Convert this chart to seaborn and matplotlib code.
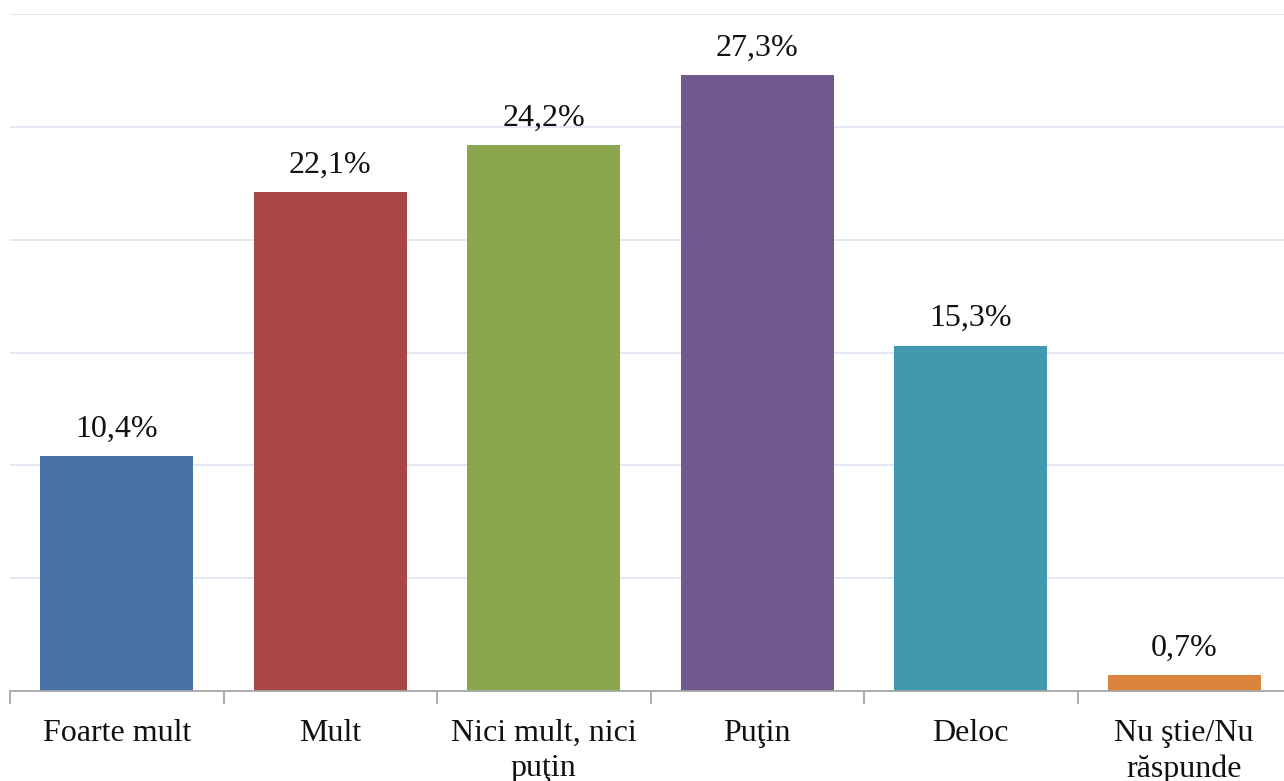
import matplotlib
matplotlib.use("Agg")
import matplotlib.pyplot as plt
import seaborn as sns
import pandas as pd

categories = ["Foarte mult", "Mult", "Nici mult, nici\npuţin", "Puţin", "Deloc", "Nu ştie/Nu\nrăspunde"]
values = [10.4, 22.1, 24.2, 27.3, 15.3, 0.7]
labels = ["10,4%", "22,1%", "24,2%", "27,3%", "15,3%", "0,7%"]
colors = ["#4672a6", "#a94746", "#8aa64e", "#71588f", "#4298af", "#db843d"]

sns.set_theme(style="white")
plt.rcParams['font.family'] = ['Liberation Serif', 'DejaVu Serif']

df = pd.DataFrame({"cat": categories, "val": values})

fig = plt.figure(figsize=(12.84, 7.81), dpi=100)
ax = fig.add_axes([10/1284, 1-691/781, 1281/1284, (691-14)/781])
sns.barplot(data=df, x="cat", y="val", hue="cat", palette=colors, legend=False,
            width=0.717, ax=ax, saturation=1, linewidth=0)

ax.set_xlim(-0.5, 5.5)
ax.set_ylim(0, 30)
ax.set_yticks([0, 5, 10, 15, 20, 25, 30])
ax.set_yticklabels([])
ax.tick_params(axis='y', length=0, left=False)
ax.yaxis.grid(True, color="#dfe6f0", linewidth=1.3)
ax.set_axisbelow(True)
ax.set_xlabel("")
ax.set_ylabel("")
for s in ["top", "right", "left"]:
    ax.spines[s].set_visible(False)
ax.spines["bottom"].set_color("#a6a6a6")
ax.spines["bottom"].set_linewidth(1.3)

ax.set_xticks([-0.5, 0.5, 1.5, 2.5, 3.5, 4.5, 5.5], minor=False)
ax.set_xticklabels([])
ax.tick_params(axis='x', which='major', bottom=True, length=9, width=1.3, color="#a6a6a6", direction='out')
ax.set_xticks(range(len(categories)), minor=True)
ax.set_xticklabels(categories, minor=True, fontsize=23, linespacing=1.3)
ax.tick_params(axis='x', which='minor', bottom=True, length=0, pad=20, labelcolor="#111111")

for i, (v, lab) in enumerate(zip(values, labels)):
    ax.text(i, v + 0.55, lab, ha="center", va="bottom", fontsize=23, color="#111111")

fig.savefig("out.png", dpi=100)
